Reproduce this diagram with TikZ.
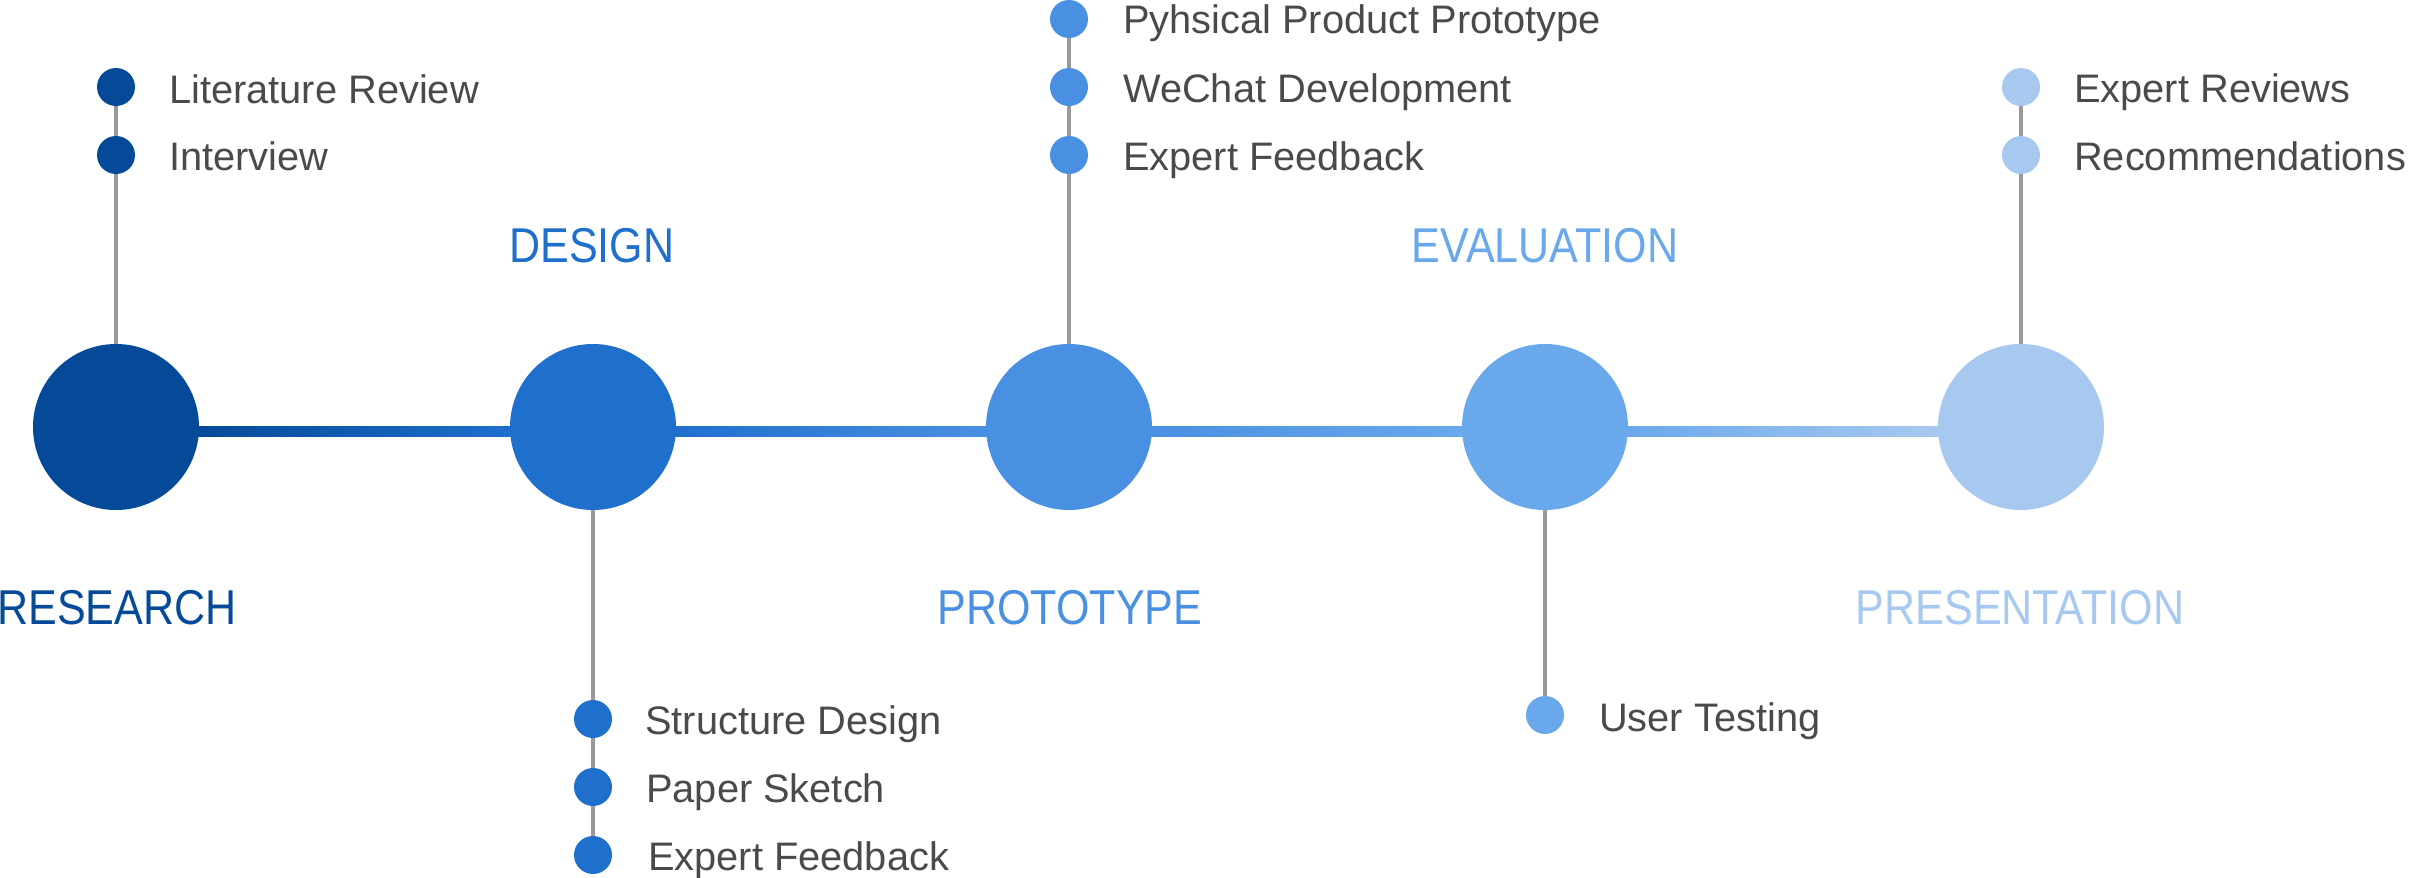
\documentclass[tikz,border=0pt]{standalone}
\usepackage{fontspec}
\setmainfont{Liberation Sans}
\newfontfamily\phasefont[FakeStretch=0.88]{Liberation Sans}
\usetikzlibrary{backgrounds,calc}

\definecolor{cResearch}{HTML}{044A98}
\definecolor{cDesign}{HTML}{1F6FCC}
\definecolor{cPrototype}{HTML}{4A90E2}
\definecolor{cEvaluation}{HTML}{6AA8EC}
\definecolor{cPresentation}{HTML}{A8C9EF}
\definecolor{itemgray}{HTML}{4A4A4A}
\definecolor{stemgray}{HTML}{999999}

\begin{document}
\begin{tikzpicture}[x=1pt,y=-1pt,
  stage/.style={circle, minimum size=166pt, inner sep=0pt, fill=#1},
  dot/.style={circle, minimum size=38pt, inner sep=0pt, fill=#1},
  item/.style={anchor=base west, inner sep=0pt, text=itemgray,
    font=\fontsize{39.8}{46}\selectfont},
  title/.style={anchor=base, inner sep=0pt, text=#1,
    font=\phasefont\fontsize{48.9}{58}\selectfont},
  stem/.style={draw=stemgray, line width=4pt}]
\useasboundingbox (0,0) rectangle (2410,878);

% main stages
\node[stage=cResearch]     (R) at (116,427) {};
\node[stage=cDesign]       (D) at (593,427) {};
\node[stage=cPrototype]    (P) at (1069,427) {};
\node[stage=cEvaluation]   (E) at (1545,427) {};
\node[stage=cPresentation] (S) at (2021,427) {};

% stage titles
\node[title=cResearch]     (tR) at (117,624) {RESEARCH};
\node[title=cDesign]       (tD) at (592,262) {DESIGN};
\node[title=cPrototype]    (tP) at (1070,624) {PROTOTYPE};
\node[title=cEvaluation]   (tE) at (1545,262) {EVALUATION};
\node[title=cPresentation] (tS) at (2020,624) {PRESENTATION};

% research activities
\node[dot=cResearch] (r1) at (116,87) {};
\node[dot=cResearch] (r2) at (116,155) {};
\node[item] (lr1) at (169,103) {Literature Review};
\node[item] (lr2) at (169,170) {Interview};

% design activities
\node[dot=cDesign] (d1) at (593,719) {};
\node[dot=cDesign] (d2) at (593,787) {};
\node[dot=cDesign] (d3) at (593,855) {};
\node[item] (ld1) at (645,734) {Structure Design};
\node[item] (ld2) at (646,802) {Paper Sketch};
\node[item] (ld3) at (648,870) {Expert Feedback};

% prototype activities
\node[dot=cPrototype] (p1) at (1069,19) {};
\node[dot=cPrototype] (p2) at (1069,87) {};
\node[dot=cPrototype] (p3) at (1069,155) {};
\node[item] (lp1) at (1123,34) {Pyhsical Product Prototype};
\node[item] (lp2) at (1123,102) {WeChat Development};
\node[item] (lp3) at (1123,170) {Expert Feedback};

% evaluation activities
\node[dot=cEvaluation] (e1) at (1545,715) {};
\node[item] (le1) at (1599,731) {User Testing};

% presentation activities
\node[dot=cPresentation] (s1) at (2021,87) {};
\node[dot=cPresentation] (s2) at (2021,155) {};
\node[item] (ls1) at (2074,102) {Expert Reviews};
\node[item] (ls2) at (2074,170) {Recommendations};

\begin{pgfonlayer}{background}
  % timeline segments with colour fades between stages
  \shade[left color=cResearch, right color=cDesign]
    ($(R.east)+(-3,-1)$) rectangle ($(D.west)+(3,9)$);
  \shade[left color=cDesign, right color=cPrototype]
    ($(D.east)+(-3,-1)$) rectangle ($(P.west)+(3,9)$);
  \shade[left color=cPrototype, right color=cEvaluation]
    ($(P.east)+(-3,-1)$) rectangle ($(E.west)+(3,9)$);
  \shade[left color=cEvaluation, right color=cPresentation]
    ($(E.east)+(-3,-1)$) rectangle ($(S.west)+(3,9)$);
  % stems to the activity dots
  \draw[stem] (R.center) -- (r1.center);
  \draw[stem] (D.center) -- (d3.center);
  \draw[stem] (P.center) -- (p1.center);
  \draw[stem] (E.center) -- (e1.center);
  \draw[stem] (S.center) -- (s1.center);
\end{pgfonlayer}
\end{tikzpicture}
\end{document}
